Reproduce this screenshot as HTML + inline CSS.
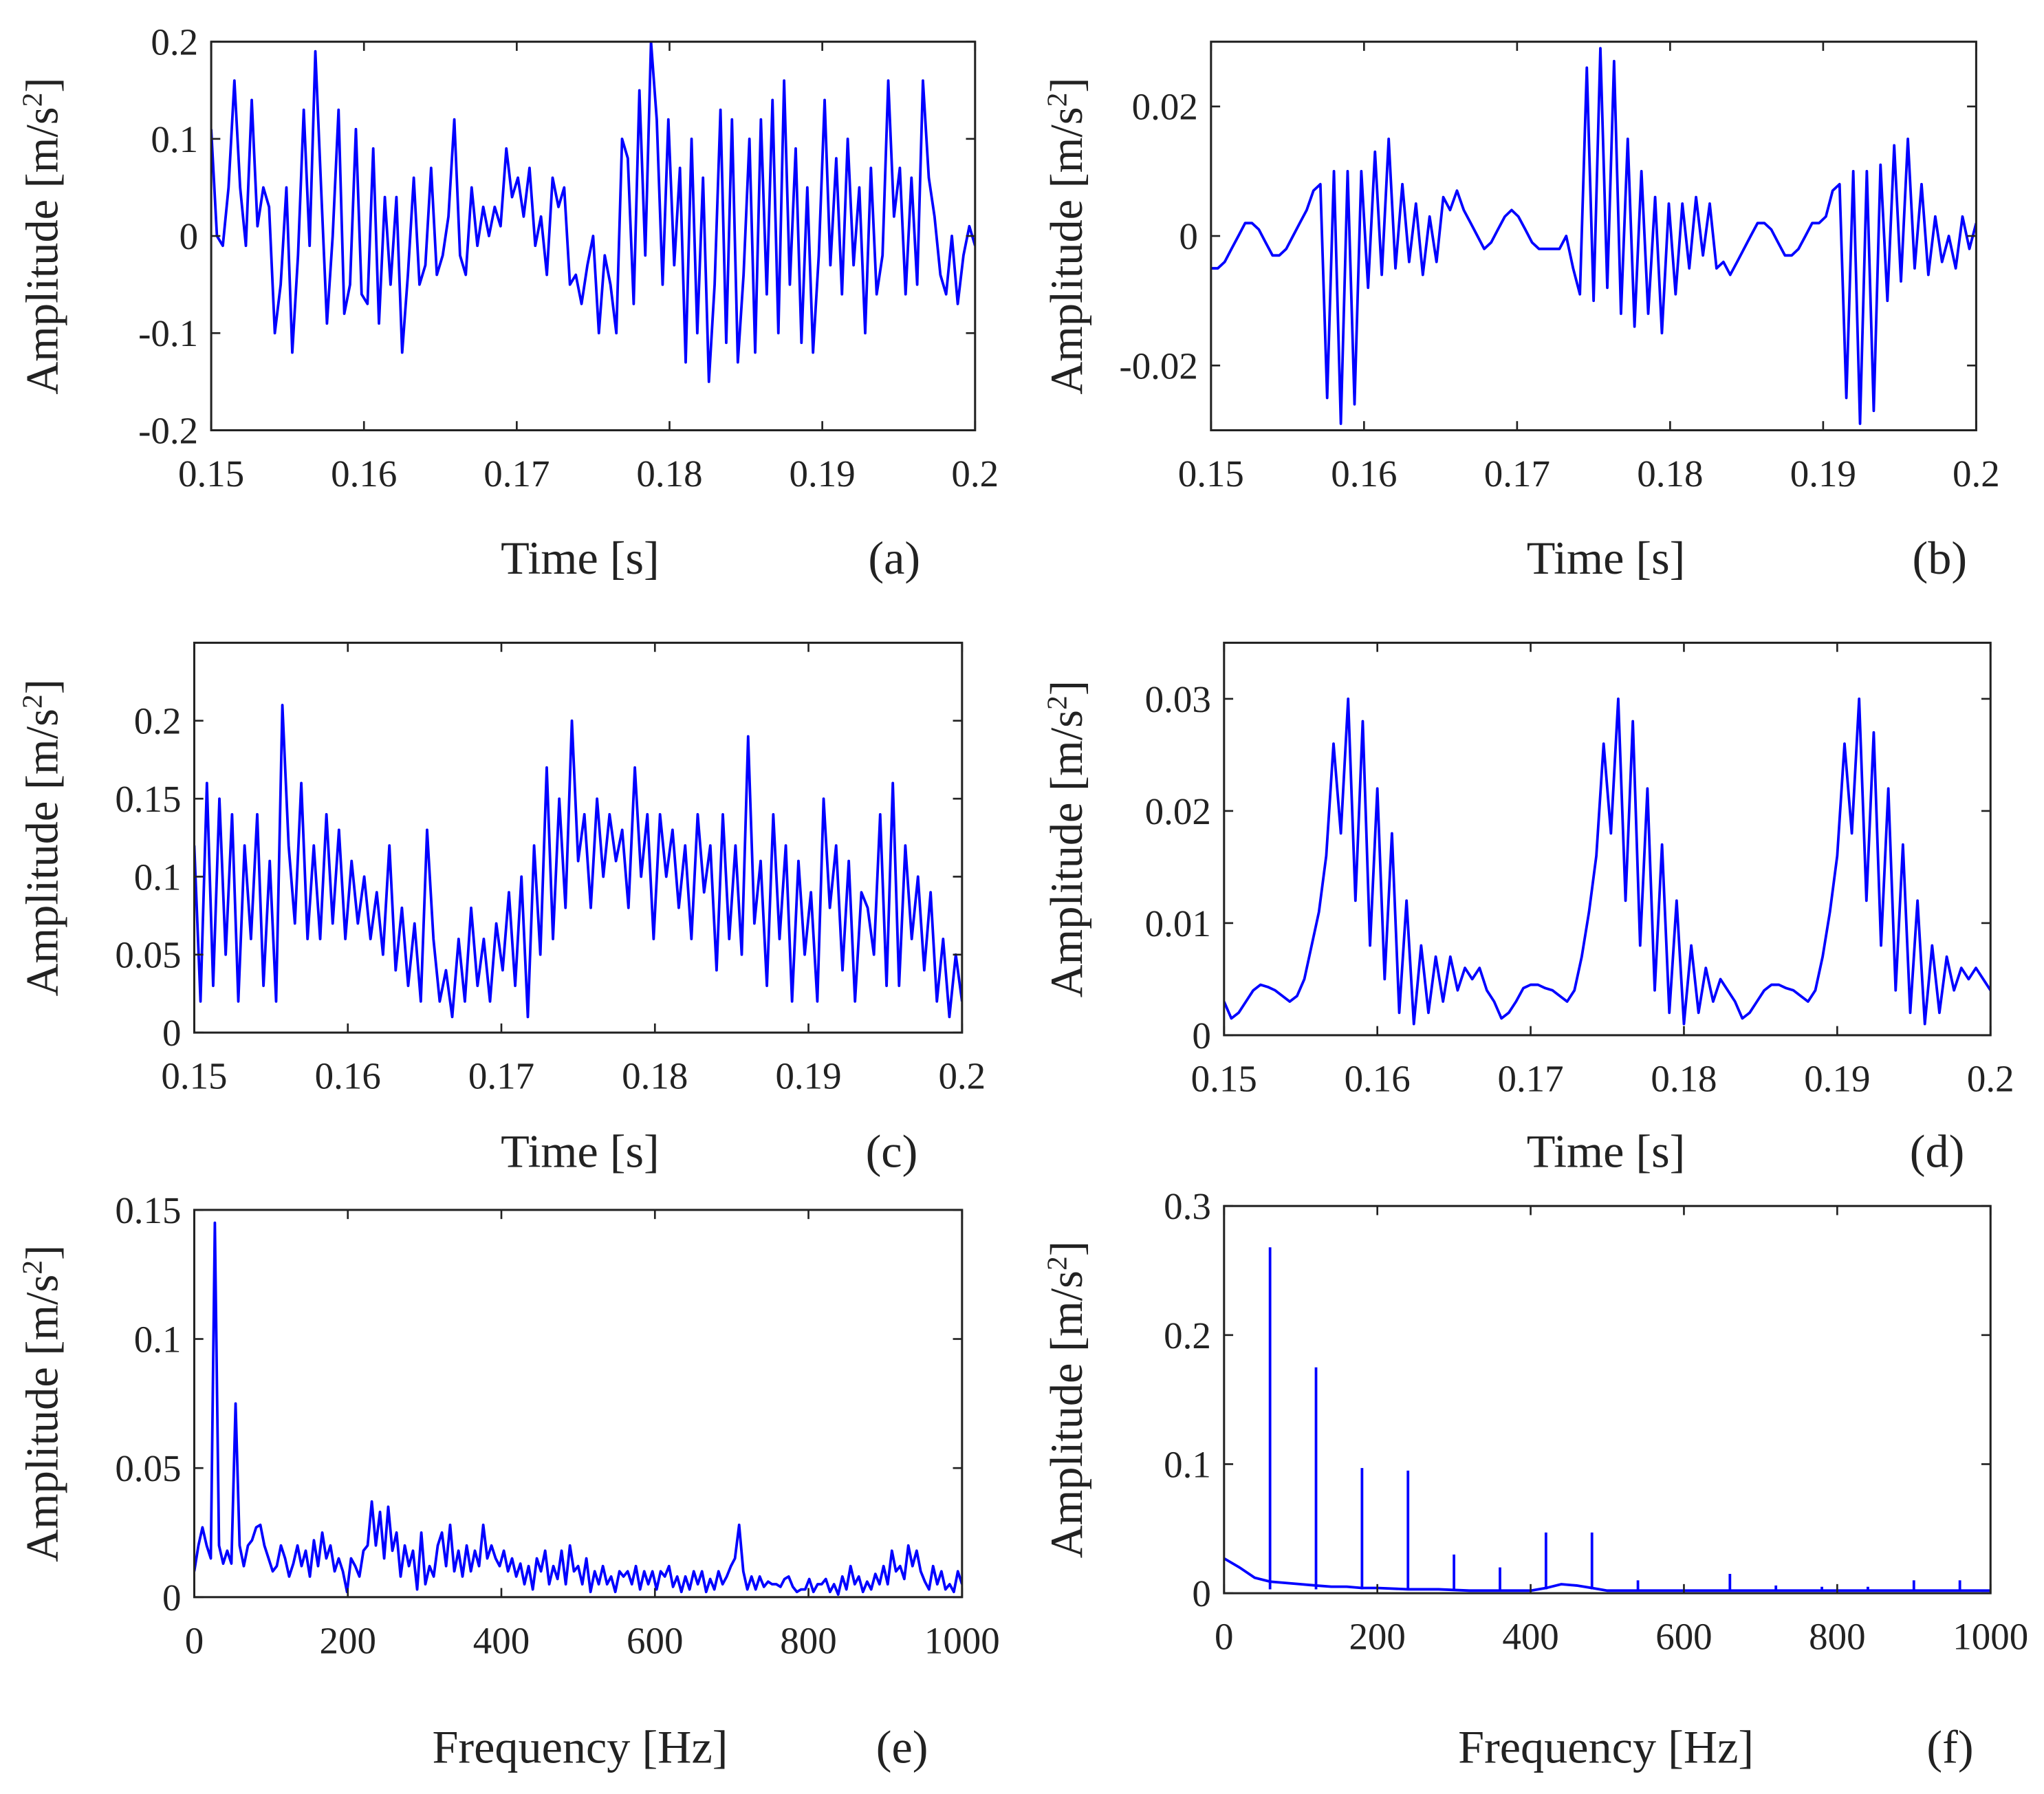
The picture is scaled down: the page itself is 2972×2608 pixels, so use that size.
<!DOCTYPE html>
<html><head><meta charset="utf-8"><style>
html,body{margin:0;padding:0;background:#fff}
svg{display:block}
text{font-family:"Liberation Serif",serif;fill:#222}
</style></head><body>
<svg id="fig" width="2972" height="2608" viewBox="0 0 1568 1376" xmlns="http://www.w3.org/2000/svg"></svg>
<script>
// ---- data ----
const timeA = [0.11,0.0,-0.01,0.05,0.16,0.05,-0.01,0.14,0.01,0.05,0.03,-0.1,-0.05,0.05,-0.12,-0.02,0.13,-0.01,0.19,0.05,-0.09,0.0,0.13,-0.08,-0.05,0.11,-0.06,-0.07,0.09,-0.09,0.04,-0.05,0.04,-0.12,-0.04,0.06,-0.05,-0.03,0.07,-0.04,-0.02,0.02,0.12,-0.02,-0.04,0.05,-0.01,0.03,0.0,0.03,0.01,0.09,0.04,0.06,0.02,0.07,-0.01,0.02,-0.04,0.06,0.03,0.05,-0.05,-0.04,-0.07,-0.03,0.0,-0.1,-0.02,-0.05,-0.1,0.10,0.08,-0.07,0.15,-0.02,0.2,0.12,-0.05,0.12,-0.03,0.07,-0.13,0.1,-0.1,0.06,-0.15,-0.05,0.13,-0.11,0.12,-0.13,-0.04,0.1,-0.12,0.12,-0.06,0.14,-0.1,0.16,-0.05,0.09,-0.11,0.05,-0.12,-0.02,0.14,-0.03,0.08,-0.06,0.1,-0.03,0.05,-0.1,0.07,-0.06,-0.02,0.16,0.02,0.07,-0.06,0.06,-0.05,0.16,0.06,0.02,-0.04,-0.06,0.0,-0.07,-0.02,0.01,-0.01];
const envC = [0.12,0.02,0.16,0.03,0.15,0.05,0.14,0.02,0.12,0.06,0.14,0.03,0.11,0.02,0.21,0.12,0.07,0.16,0.06,0.12,0.06,0.14,0.07,0.13,0.06,0.11,0.07,0.1,0.06,0.09,0.05,0.12,0.04,0.08,0.03,0.07,0.02,0.13,0.06,0.02,0.04,0.01,0.06,0.02,0.08,0.03,0.06,0.02,0.07,0.04,0.09,0.03,0.1,0.01,0.12,0.05,0.17,0.06,0.15,0.08,0.2,0.11,0.14,0.08,0.15,0.1,0.14,0.11,0.13,0.08,0.17,0.1,0.14,0.06,0.14,0.1,0.13,0.08,0.12,0.06,0.14,0.09,0.12,0.04,0.14,0.06,0.12,0.05,0.19,0.07,0.11,0.03,0.14,0.06,0.12,0.02,0.11,0.05,0.09,0.02,0.15,0.08,0.12,0.04,0.11,0.02,0.09,0.08,0.05,0.14,0.03,0.16,0.03,0.12,0.06,0.1,0.04,0.09,0.02,0.06,0.01,0.05,0.02];
const sigB = [-0.005,-0.005,-0.004,-0.002,0.0,0.002,0.002,0.001,-0.001,-0.003,-0.003,-0.002,0.0,0.002,0.004,0.007,0.008,-0.025,0.01,-0.029,0.01,-0.026,0.01,-0.008,0.013,-0.006,0.015,-0.005,0.008,-0.004,0.005,-0.006,0.003,-0.004,0.006,0.004,0.007,0.004,0.002,0.0,-0.002,-0.001,0.001,0.003,0.004,0.003,0.001,-0.001,-0.002,-0.002,-0.002,-0.002,0.0,-0.005,-0.009,0.026,-0.01,0.029,-0.008,0.027,-0.012,0.015,-0.014,0.01,-0.012,0.006,-0.015,0.005,-0.009,0.005,-0.005,0.006,-0.003,0.005,-0.005,-0.004,-0.006,-0.004,-0.002,0.0,0.002,0.002,0.001,-0.001,-0.003,-0.003,-0.002,0.0,0.002,0.002,0.003,0.007,0.008,-0.025,0.01,-0.029,0.01,-0.027,0.011,-0.01,0.014,-0.007,0.015,-0.005,0.008,-0.006,0.003,-0.004,0.0,-0.005,0.003,-0.002,0.002];
const envD = [0.003,0.0015,0.002,0.003,0.004,0.0045,0.0043,0.004,0.0035,0.003,0.0035,0.005,0.008,0.011,0.016,0.026,0.018,0.030,0.012,0.028,0.008,0.022,0.005,0.018,0.002,0.012,0.001,0.008,0.002,0.007,0.003,0.007,0.004,0.006,0.005,0.006,0.004,0.003,0.0015,0.002,0.003,0.0042,0.0045,0.0045,0.0042,0.004,0.0035,0.003,0.004,0.007,0.011,0.016,0.026,0.018,0.030,0.012,0.028,0.008,0.022,0.004,0.017,0.002,0.012,0.001,0.008,0.002,0.006,0.003,0.005,0.004,0.003,0.0015,0.002,0.003,0.004,0.0045,0.0045,0.0042,0.004,0.0035,0.003,0.004,0.007,0.011,0.016,0.026,0.018,0.030,0.012,0.027,0.008,0.022,0.004,0.017,0.002,0.012,0.001,0.008,0.002,0.007,0.004,0.006,0.005,0.006,0.005,0.004];
const specE = [0.01,0.02,0.027,0.02,0.015,0.145,0.02,0.013,0.018,0.013,0.075,0.02,0.012,0.02,0.022,0.027,0.028,0.02,0.015,0.01,0.012,0.02,0.015,0.008,0.013,0.02,0.012,0.018,0.008,0.022,0.012,0.025,0.015,0.02,0.01,0.015,0.01,0.002,0.015,0.012,0.008,0.018,0.02,0.037,0.02,0.033,0.015,0.035,0.018,0.025,0.008,0.02,0.012,0.018,0.003,0.025,0.005,0.012,0.008,0.02,0.025,0.012,0.028,0.01,0.018,0.008,0.02,0.01,0.018,0.012,0.028,0.015,0.02,0.015,0.012,0.018,0.01,0.015,0.008,0.013,0.005,0.012,0.003,0.015,0.01,0.018,0.005,0.012,0.007,0.018,0.005,0.02,0.01,0.012,0.005,0.015,0.002,0.01,0.005,0.012,0.005,0.008,0.002,0.01,0.008,0.01,0.005,0.012,0.003,0.01,0.005,0.01,0.003,0.01,0.008,0.012,0.004,0.008,0.002,0.008,0.003,0.01,0.005,0.01,0.002,0.007,0.003,0.01,0.005,0.008,0.012,0.015,0.028,0.01,0.003,0.008,0.003,0.008,0.004,0.006,0.005,0.005,0.004,0.007,0.008,0.004,0.002,0.003,0.003,0.007,0.002,0.005,0.005,0.007,0.002,0.005,0.001,0.008,0.003,0.012,0.005,0.008,0.002,0.006,0.003,0.009,0.005,0.012,0.005,0.018,0.01,0.012,0.007,0.02,0.012,0.018,0.01,0.006,0.003,0.012,0.005,0.01,0.003,0.005,0.002,0.01,0.005];
const freqF = [0,20,40,60,80,100,120,140,160,180,200,240,280,320,360,400,420,440,460,480,500,520,560,600,700,800,900,1000];
const baseF = [0.027,0.02,0.012,0.009,0.008,0.007,0.006,0.005,0.005,0.004,0.004,0.003,0.003,0.002,0.002,0.002,0.004,0.007,0.006,0.004,0.002,0.002,0.002,0.002,0.002,0.002,0.002,0.002];
const spikeFreq = [60,120,180,240,300,360,420,480,540,660,720,780,840,900,960];
const spikeAmp = [0.268,0.175,0.097,0.095,0.03,0.02,0.047,0.047,0.01,0.015,0.006,0.005,0.005,0.01,0.01];
const timeTicks = [0.15,0.16,0.17,0.18,0.19,0.2];
const timeTickLabels = ["0.15","0.16","0.17","0.18","0.19","0.2"];
const freqTicks = [0,200,400,600,800,1000];

const NS="http://www.w3.org/2000/svg";
const svg=document.getElementById('fig');
function mk(tag,attrs,parent){const e=document.createElementNS(NS,tag);for(const k in attrs)e.setAttribute(k,attrs[k]);(parent||svg).appendChild(e);return e;}

function panel(o){
  const g=mk('g',{});
  
  
  const sx=v=>o.x0+(v-o.xmin)/(o.xmax-o.xmin)*(o.x1-o.x0);
  const sy=v=>o.y1-(v-o.ymin)/(o.ymax-o.ymin)*(o.y1-o.y0);
  const cid='c'+o.name;
  const cp=mk('clipPath',{id:cid},g);mk('rect',{x:o.x0,y:o.y0,width:o.x1-o.x0,height:o.y1-o.y0},cp);
  const lines=mk('g',{'clip-path':`url(#${cid})`},g);
  o.draw(lines,sx,sy);
  const box=mk('rect',{x:o.x0,y:o.y0,width:o.x1-o.x0,height:o.y1-o.y0,fill:'none',stroke:'#222','stroke-width':1.6},g);
  
  
  o.xt.forEach((t,i)=>{
    const x=sx(t);
    mk('line',{x1:x,x2:x,y1:o.y1,y2:o.y1-7,stroke:'#222','stroke-width':1.4},g);
    mk('line',{x1:x,x2:x,y1:o.y0,y2:o.y0+7,stroke:'#222','stroke-width':1.4},g);
    const tx=mk('text',{x:x,y:o.y1+43,'font-size':29,'text-anchor':'middle'},g);
    tx.textContent=o.xl[i];
    
    
  });
  o.yt.forEach((t,i)=>{
    const y=sy(t);
    mk('line',{x1:o.x0,x2:o.x0+7,y1:y,y2:y,stroke:'#222','stroke-width':1.4},g);
    mk('line',{x1:o.x1,x2:o.x1-7,y1:y,y2:y,stroke:'#222','stroke-width':1.4},g);
    const tx=mk('text',{x:o.x0-10,y:y+10,'font-size':29,'text-anchor':'end'},g);
    tx.textContent=o.yl[i];
    
    
  });
  const yl=mk('text',{x:0,y:0,'font-size':35,'text-anchor':'middle',transform:`translate(${o.ylx},${(o.y0+o.y1)/2}) rotate(-90)`},g);
  yl.innerHTML='Amplitude  [m/s<tspan font-size="22" dy="-12">2</tspan><tspan dy="12">]</tspan>';
  
  
  const xl=mk('text',{x:o.xlx,y:o.xly,'font-size':36,'text-anchor':'middle'},g);
  xl.textContent=o.xlabel;
  
  
  const pl=mk('text',{x:o.plx,y:o.xly,'font-size':36,'text-anchor':'middle'},g);
  pl.textContent=o.tag;
  
  
}
function series(vals,x0v,x1v){return(g,sx,sy)=>{
  const n=vals.length;
  const pts=vals.map((v,i)=>sx(x0v+(x1v-x0v)*i/(n-1)).toFixed(1)+','+sy(v).toFixed(1)).join(' ');
  const p=mk('polyline',{points:pts,fill:'none',stroke:'#0000ff','stroke-width':2,'stroke-linejoin':'round'},g);
  
  
};}

panel({name:'panel-a',x0:162,x1:748,y0:32,y1:330,xmin:0.15,xmax:0.2,ymin:-0.2,ymax:0.2,
  xt:timeTicks,xl:timeTickLabels,yt:[-0.2,-0.1,0,0.1,0.2],yl:['-0.2','-0.1','0','0.1','0.2'],
  ylx:44,xlabel:'Time [s]',xlx:445,xly:440,plx:686,tag:'(a)',draw:series(timeA,0.15,0.2)});
panel({name:'panel-b',x0:929,x1:1516,y0:32,y1:330,xmin:0.15,xmax:0.2,ymin:-0.03,ymax:0.03,
  xt:timeTicks,xl:timeTickLabels,yt:[-0.02,0,0.02],yl:['-0.02','0','0.02'],
  ylx:830,xlabel:'Time [s]',xlx:1232,xly:440,plx:1488,tag:'(b)',draw:series(sigB,0.15,0.2)});
panel({name:'panel-c',x0:149,x1:738,y0:493,y1:792,xmin:0.15,xmax:0.2,ymin:0,ymax:0.25,
  xt:timeTicks,xl:timeTickLabels,yt:[0,0.05,0.1,0.15,0.2],yl:['0','0.05','0.1','0.15','0.2'],
  ylx:44,xlabel:'Time [s]',xlx:445,xly:895,plx:684,tag:'(c)',draw:series(envC,0.15,0.2)});
panel({name:'panel-d',x0:939,x1:1527,y0:493,y1:794,xmin:0.15,xmax:0.2,ymin:0,ymax:0.035,
  xt:timeTicks,xl:timeTickLabels,yt:[0,0.01,0.02,0.03],yl:['0','0.01','0.02','0.03'],
  ylx:830,xlabel:'Time [s]',xlx:1232,xly:895,plx:1486,tag:'(d)',draw:series(envD,0.15,0.2)});
panel({name:'panel-e',x0:149,x1:738,y0:928,y1:1225,xmin:0,xmax:1000,ymin:0,ymax:0.15,
  xt:freqTicks,xl:freqTicks.map(String),yt:[0,0.05,0.1,0.15],yl:['0','0.05','0.1','0.15'],
  ylx:44,xlabel:'Frequency [Hz]',xlx:445,xly:1352,plx:692,tag:'(e)',draw:series(specE,0,1000)});
panel({name:'panel-f',x0:939,x1:1527,y0:925,y1:1222,xmin:0,xmax:1000,ymin:0,ymax:0.3,
  xt:freqTicks,xl:freqTicks.map(String),yt:[0,0.1,0.2,0.3],yl:['0','0.1','0.2','0.3'],
  ylx:830,xlabel:'Frequency [Hz]',xlx:1232,xly:1352,plx:1496,tag:'(f)',draw:(g,sx,sy)=>{
    const pts=freqF.map((f,i)=>sx(f).toFixed(1)+','+sy(baseF[i]).toFixed(1)).join(' ');
    const p=mk('polyline',{points:pts,fill:'none',stroke:'#0000ff','stroke-width':2},g);
    
    
    spikeFreq.forEach((f,i)=>{
      const l=mk('line',{x1:sx(f),x2:sx(f),y1:sy(0.003),y2:sy(spikeAmp[i]),stroke:'#0000ff','stroke-width':2},g);
      
      
    });
  }});
</script>
</body></html>
